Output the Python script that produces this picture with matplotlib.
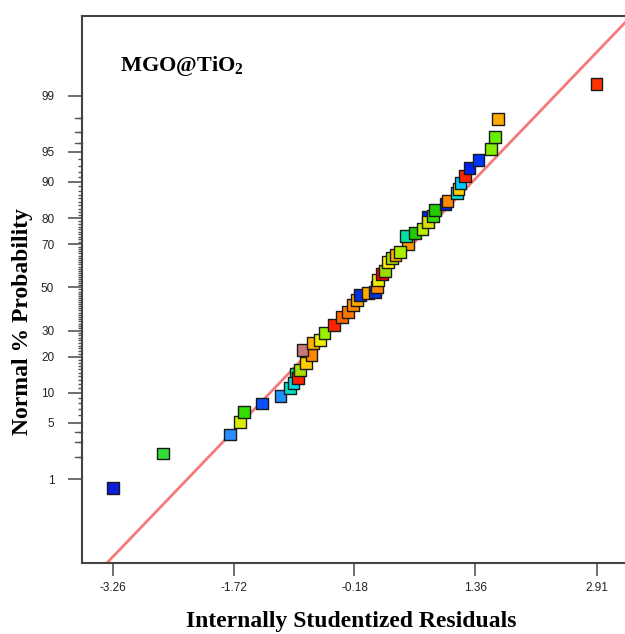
import numpy as np
import matplotlib
matplotlib.use('Agg')
import matplotlib.pyplot as plt
from statistics import NormalDist

# residuals / normal % probability (drawn bottom to top)
resid = [-3.26, -2.62, -1.77, -1.64, -1.59, -1.36, -1.12, -1.00, -0.96, -0.90,
         -0.875, -0.80, -0.73, -0.84, -0.71, -0.62, -0.56, -0.44, -0.34, -0.26,
         -0.20, -0.15, -0.11, -0.01, 0.08, 0.11, 0.12, 0.17, 0.21, 0.25,
         0.30, 0.34, 0.40, 0.48, 0.59, 0.69, 0.76, 0.82, 0.85, 0.98,
         1.01, 1.13, 1.15, 1.17, 1.23, 1.29, 1.40, 1.56, 1.61, 1.65, 2.91]
pct = [0.75, 2.2, 3.7, 5.1, 6.5, 7.9, 9.4, 11.1, 12.3, 13.6,
       15.8, 18.0, 20.6, 22.4, 25.0, 26.2, 29.0, 32.4, 36.0, 38.3,
       41.5, 43.9, 46.3, 47.3, 47.8, 50.2, 53.6, 56.5, 57.9, 62.1,
       63.9, 65.3, 66.6, 73.4, 74.5, 76.1, 78.6, 80.7, 82.6, 84.4,
       85.3, 87.4, 88.4, 89.7, 91.2, 92.6, 93.9, 95.35, 96.6, 97.95, 99.32]
colors = ['#0a1edc', '#33dd33', '#2a8cff', '#d8ee00', '#33dd00', '#0a50ff', '#1e90ff', '#00e0c8', '#00dce6', '#ff2000',
          '#aadd00', '#ffcc00', '#ff8800', '#c87878', '#ffb000', '#eeee00', '#99ee00', '#ff2200', '#ff6600', '#ff7700',
          '#ff8800', '#ffaa00', '#0030e0', '#ffaa00', '#0033dd', '#ff8800', '#eeee00', '#ff0000', '#99dd00', '#ffee00',
          '#aadd00', '#ffaa00', '#aaee00', '#00e0a0', '#22cc00', '#bbee00', '#e0e000', '#33dd00', '#22cc00', '#0022ee',
          '#ff8800', '#00e0e0', '#ffd000', '#00ccff', '#ff2200', '#0022ee', '#0033ff', '#88ee00', '#66ee00', '#ffaa00', '#ff3300']

# points mostly hidden behind others
hidden_resid = [-0.93, 0.50, 0.76]
hidden_pct = [14.8, 70.0, 80.3]
hidden_colors = ['#00dd88', '#ff9900', '#0022ee']

# reference line end points
line_x = [-3.40, 3.32]
line_pct = [0.0328, 99.9447]

xticks = [-3.26, -1.72, -0.18, 1.36, 2.91]
yticks = [1, 5, 10, 20, 30, 50, 70, 80, 90, 95, 99]

nd = NormalDist()
_ppf = np.vectorize(nd.inv_cdf, otypes=[float])
_cdf = np.vectorize(nd.cdf, otypes=[float])


def fwd(p):
    p = np.clip(np.asarray(p, dtype=float) / 100.0, 1e-12, 1 - 1e-12)
    return _ppf(p)


def inv(z):
    return _cdf(np.asarray(z, dtype=float)) * 100.0


plt.rcParams['mathtext.fontset'] = 'custom'
plt.rcParams['mathtext.bf'] = 'Liberation Serif:bold'
plt.rcParams['mathtext.rm'] = 'Liberation Serif:bold'

fig = plt.figure(figsize=(6.25, 6.34), dpi=100)
ax = fig.add_axes([82 / 625, 71 / 634, 545 / 625, 547 / 634])
ax.set_yscale('function', functions=(fwd, inv))

ax.plot(line_x, line_pct, color='#f47a7a', lw=2, zorder=2)
ax.scatter(hidden_resid, hidden_pct, marker='s', s=68, c=hidden_colors,
           edgecolors='#1a1a1a', linewidths=1.0, zorder=3)
ax.scatter(resid, pct, marker='s', s=68, c=colors,
           edgecolors='#1a1a1a', linewidths=1.0, zorder=4)

ax.set_xlim(-3.655, 3.296)
ax.set_ylim(0.0411, 99.9506)

ax.set_xticks(xticks)
ax.set_xticklabels(['%.2f' % v for v in xticks])
ax.set_yticks(yticks)
ax.set_yticklabels([str(v) for v in yticks])
minor = [v for v in range(2, 99) if v not in yticks]
ax.set_yticks(minor, minor=True)

ax.tick_params(axis='y', which='major', length=10, width=1.2, color='#555555',
               pad=10, labelsize=8.5, labelcolor='#222222')
ax.tick_params(axis='y', which='minor', length=3, width=1.0, color='#555555')
ax.tick_params(axis='x', which='major', length=9, width=1.2, color='#555555',
               pad=5, labelsize=8.5, labelcolor='#222222')
for lab in ax.get_xticklabels() + ax.get_yticklabels():
    lab.set_fontfamily('Liberation Sans')

# medium ticks near the tails
for p in [2, 3, 4, 96, 97, 98]:
    ax.plot([-0.013, 0], [p, p], transform=ax.get_yaxis_transform(),
            clip_on=False, color='#555555', lw=1.0)

for side in ['left', 'top', 'bottom', 'right']:
    ax.spines[side].set_color('#444444')
    ax.spines[side].set_linewidth(1.5)

fig.text(120 / 625, 1 - 66 / 634, r'MGO@TiO$_{\mathbf{2}}$', family='Liberation Serif',
         weight='bold', fontsize=16, va='center', ha='left')

fig.text(351 / 625, 1 - 621 / 634, 'Internally Studentized Residuals', family='Liberation Serif',
         weight='bold', fontsize=17, ha='center', va='center')
fig.text(23 / 625, 1 - 322 / 634, 'Normal % Probability', family='Liberation Serif',
         weight='bold', fontsize=17, ha='center', va='center', rotation=90)

fig.savefig('out.png', dpi=100)
